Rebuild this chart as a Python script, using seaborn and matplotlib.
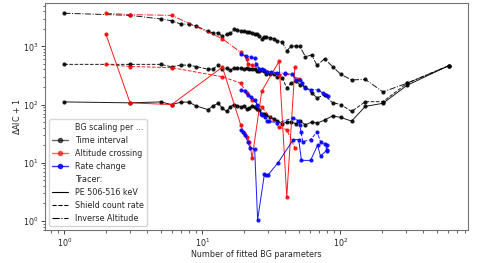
import matplotlib
matplotlib.use("Agg")
import matplotlib.pyplot as plt
from matplotlib.lines import Line2D
import seaborn as sns

# black: BG scaling per time interval (shared x for the three tracers)
time_x = [1, 3, 5, 6, 7, 8, 9, 11, 12, 13, 14, 15, 16, 17, 18, 19, 20, 21, 22, 23, 24, 25, 26, 27,
          28, 29, 31, 33, 35, 38, 41, 44, 48, 51, 56, 62, 68, 77, 88, 101, 121, 152, 204, 306, 612]
time_pe = [111, 107, 111, 100, 110, 110, 95, 82, 95, 105, 87, 76, 92, 100, 95, 92, 94, 85, 88, 95,
           90, 84, 80, 70, 68, 66, 60, 57, 52, 47, 50, 50, 47, 52, 45, 50, 48, 54, 64, 60, 52, 93,
           105, 215, 465]
time_shield = [490, 490, 490, 445, 475, 475, 450, 405, 410, 470, 400, 420, 390, 430, 420, 420,
               410, 420, 400, 410, 405, 380, 370, 390, 370, 330, 330, 330, 300, 290, 192, 233,
               254, 218, 200, 158, 131, 145, 108, 100, 76, 112, 112, 233, 465]
time_invalt = [3700, 3400, 2950, 2750, 2400, 2400, 2250, 1800, 1700, 1700, 1480, 1600, 1700,
               1950, 1900, 1850, 1800, 1780, 1750, 1700, 1650, 1600, 1500, 1330, 1450, 1470,
               1400, 1350, 1250, 1180, 830, 1010, 1010, 1000, 660, 710, 470, 610, 450, 330, 265,
               270, 165, 233, 465]

# red: BG scaling per altitude crossing
alt_pe_x = [2, 3, 6, 14, 19, 20, 21, 22, 23, 27, 36, 41, 47]
alt_pe = [1630, 107, 100, 440, 45, 32, 28, 23, 12, 170, 550, 2.6, 450]
alt_shield_x = [2, 3, 6, 14, 19, 21, 23, 27, 36, 41, 47]
alt_shield = [490, 450, 430, 300, 233, 158, 122, 90, 41, 37, 18]
alt_invalt_x = [2, 3, 6, 14, 19, 21, 21.5, 23, 36, 40, 50]
alt_invalt = [3700, 3500, 3400, 1350, 785, 607, 500, 470, 320, 340, 280]

# blue: BG scaling per rate change
rate_pe_x = [19, 19.7, 20.4, 21.4, 22.2, 24, 25.2, 28.2, 29, 30, 35.4, 45.7, 50, 52.4, 61,
             68.5, 72, 80, 80.5]
rate_pe = [36.5, 34, 30, 23, 18, 17, 1.05, 6.3, 6.2, 6.2, 10, 25, 25, 11, 11, 20, 13, 16.5, 20]
rate_shield_x = [19, 20.4, 21.3, 22.7, 24, 25, 26.7, 27.3, 28.5, 29.6, 30.6, 34.8, 45.8, 49.8,
                 51, 52, 53.5, 61, 68, 72, 78, 80]
rate_shield = [180, 169, 148, 134, 122, 100, 69, 65, 60, 53, 52, 48, 59, 52, 45, 34, 23, 25,
               34, 23, 21, 16]
rate_invalt_x = [19, 20.7, 22.4, 24, 24.6, 26, 27, 28.2, 29.5, 31.5, 34.7, 40, 44.6, 48, 51, 53,
                 55.5, 61.6, 68.8, 74.5, 78.5, 81]
rate_invalt = [735, 690, 650, 620, 500, 415, 400, 388, 365, 365, 355, 342, 329, 265, 265, 233,
               192, 180, 180, 158, 148, 140]

FS = 5.8
sns.set_style("ticks")
plt.rcParams['font.family'] = ['DejaVu Sans']
plt.rcParams['font.size'] = FS

fig, ax = plt.subplots(figsize=(4.79, 2.63), dpi=100)
ax.set_xscale("log")
ax.set_yscale("log")

series = [
    (time_x, time_pe, "black", "-"), (time_x, time_shield, "black", "--"),
    (time_x, time_invalt, "black", "-."),
    (alt_pe_x, alt_pe, "red", "-"), (alt_shield_x, alt_shield, "red", "--"),
    (alt_invalt_x, alt_invalt, "red", "-."),
    (rate_pe_x, rate_pe, "blue", "-"), (rate_shield_x, rate_shield, "blue", "--"),
    (rate_invalt_x, rate_invalt, "blue", "-."),
]
for xs, ys, col, ls in series:
    sns.lineplot(x=xs, y=ys, color=col, linestyle=ls, marker="o", markersize=3,
                 markeredgewidth=0, linewidth=0.7, alpha=0.9, estimator=None, sort=False, ax=ax)

ax.set_xlabel("Number of fitted BG parameters", fontsize=FS, labelpad=1)
ax.set_ylabel(r"$\Delta$AIC + 1", fontsize=FS, labelpad=1)
ax.tick_params(labelsize=FS, length=3, width=0.6, pad=1.5)
ax.tick_params(which="minor", length=1.8, width=0.5)
for sp in ax.spines.values():
    sp.set_color("0.45")
    sp.set_linewidth(0.8)

blank = Line2D([], [], color="none")
handles = [blank,
           Line2D([], [], color="black", marker="o", markersize=3, lw=1, alpha=0.6),
           Line2D([], [], color="red", marker="o", markersize=3, lw=1, alpha=0.6),
           Line2D([], [], color="blue", marker="o", markersize=3, lw=1, alpha=0.8),
           blank,
           Line2D([], [], color="black", ls="-", lw=0.8),
           Line2D([], [], color="black", ls="--", lw=0.8),
           Line2D([], [], color="black", ls="-.", lw=0.8)]
labels = ["BG scaling per ...", "Time interval", "Altitude crossing", "Rate change",
          "Tracer:", "PE 506-516 keV", "Shield count rate", "Inverse Altitude"]
ax.legend(handles, labels, loc="lower left", fontsize=FS, frameon=True, labelspacing=0.5,
          handlelength=2.0, borderpad=0.4)

fig.subplots_adjust(left=0.094, right=0.977, bottom=0.125, top=0.989)
fig.savefig("out.png", dpi=100)
